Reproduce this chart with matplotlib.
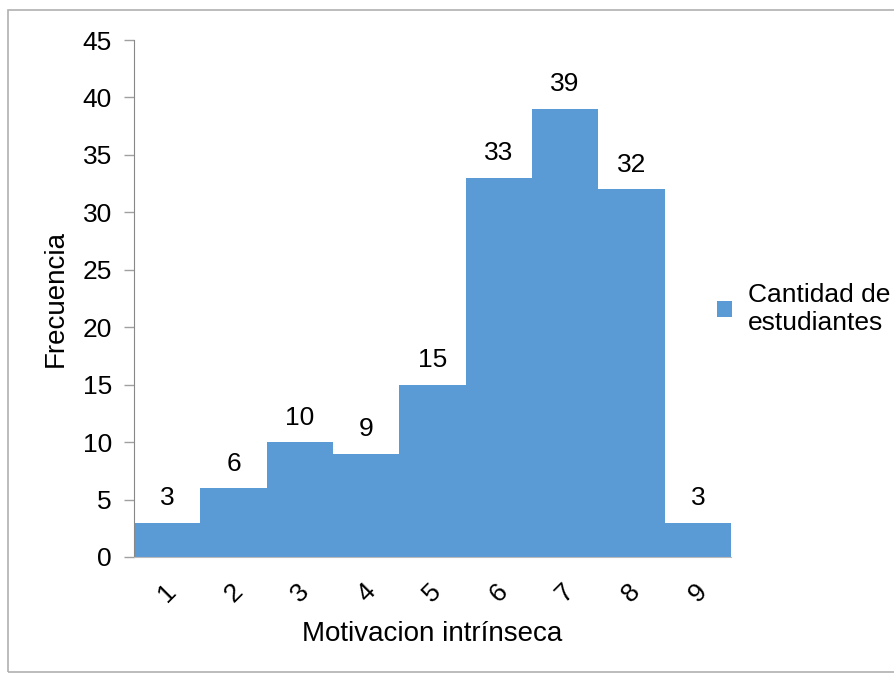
import matplotlib.pyplot as plt
from matplotlib.patches import Rectangle

plt.rcParams['font.family'] = ['Liberation Sans', 'DejaVu Sans']

categories = ['1', '2', '3', '4', '5', '6', '7', '8', '9']
frecuencia = [3, 6, 10, 9, 15, 33, 39, 32, 3]
bar_color = '#5B9BD5'

fig = plt.figure(figsize=(8.95, 6.76), dpi=100)
ax = fig.add_axes([134 / 895, 1 - 557 / 676, (731 - 134) / 895, (557 - 40) / 676])

x = range(len(categories))
bars = ax.bar(x, frecuencia, width=1.0, color=bar_color, label='Cantidad de\nestudiantes')
ax.bar_label(bars, padding=9, fontsize=19)

ax.set_xlim(-0.5, len(categories) - 0.5)
ax.set_ylim(0, 45)
ax.set_yticks(range(0, 46, 5))
ax.set_xticks(list(x))
ax.set_xticklabels(categories, rotation=45, fontsize=19)
ax.tick_params(axis='y', labelsize=19, length=7, color='#a0a0a0', width=1, pad=9)
ax.tick_params(axis='x', length=0, pad=16)

for side in ['top', 'right']:
    ax.spines[side].set_visible(False)
ax.spines['left'].set_color('#888888')
ax.spines['bottom'].set_color('#bbbbbb')

ax.set_xlabel('Motivacion intrínseca', fontsize=20, labelpad=10)
ax.set_ylabel('Frecuencia', fontsize=20, labelpad=10)

fig.legend(loc='center left', bbox_to_anchor=(712 / 895, 1 - 309 / 676), frameon=False,
           fontsize=19, handlelength=0.55, handleheight=0.55, handletextpad=0.6,
           labelspacing=0.15, borderaxespad=0, borderpad=0.2)

fig.patches.append(Rectangle((8 / 895, 4 / 676), 1.0, 1 - 14 / 676, transform=fig.transFigure,
                             fill=False, edgecolor='#b0b0b0', linewidth=1.2))

fig.savefig('out.png', dpi=100)
